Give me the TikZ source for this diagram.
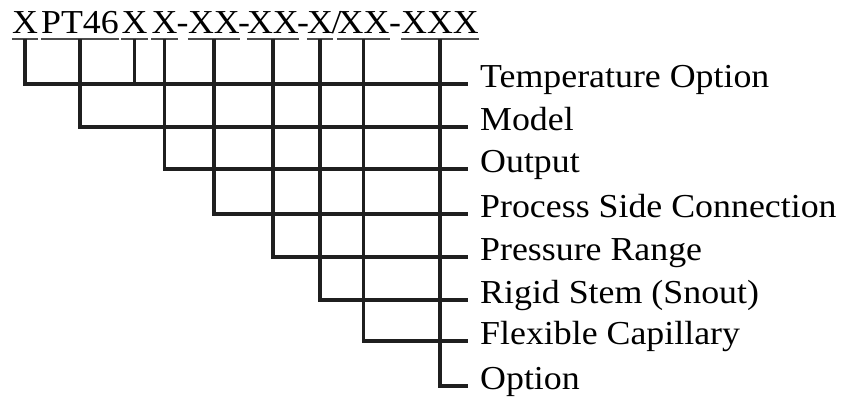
\documentclass[tikz,border=0pt]{standalone}
\usepackage{fontspec}
\setmainfont{Liberation Serif}[FakeStretch=1.07]
\usepackage{tikz}

\begin{document}
\begin{tikzpicture}[x=1pt,y=-1pt,
  seg/.style={inner sep=0pt,anchor=base,font=\fontsize{33.5}{40}\selectfont},
  lab/.style={anchor=west,inner xsep=12pt,inner ysep=0pt,text height=0.66em,text depth=0pt,font=\fontsize{33.5}{40}\selectfont},
  wire/.style={line width=3.2pt,black!88},
  uline/.style={line width=1.7pt,black!70}]
\useasboundingbox (0,0) rectangle (842,398);

% model code
\node[seg] (x1) at (25,34) {X};
\node[seg] (pt) at (80,34) {PT46};
\node[seg] (x2) at (134.5,34) {X};
\node[seg] (x3) at (164.5,34) {X};
\node[seg] (d1) at (182.5,34) {-};
\node[seg] (xx1) at (214,34) {XX};
\node[seg] (d2) at (244,34) {-};
\node[seg] (xx2) at (273,34) {XX};
\node[seg] (d3) at (303,34) {-};
\node[seg] (x4) at (320,34) {X};
\node[seg] (sl) at (336.5,34) {/};
\node[seg] (xx3) at (363.5,34) {XX};
\node[seg] (d4) at (395,34) {-};
\node[seg] (xxx) at (440,34) {XXX};

\draw[uline] ([yshift=-4.5pt]x1.south west) -- ([yshift=-4.5pt]x1.south east);
\draw[uline] ([yshift=-4.5pt]pt.south west) -- ([yshift=-4.5pt]pt.south east);
\draw[uline] ([yshift=-4.5pt]x2.south west) -- ([yshift=-4.5pt]x2.south east);
\draw[uline] ([yshift=-4.5pt]x3.south west) -- ([yshift=-4.5pt]x3.south east);
\draw[uline] ([yshift=-4.5pt]xx1.south west) -- ([yshift=-4.5pt]xx1.south east);
\draw[uline] ([yshift=-4.5pt]xx2.south west) -- ([yshift=-4.5pt]xx2.south east);
\draw[uline] ([yshift=-4.5pt]x4.south west) -- ([yshift=-4.5pt]x4.south east);
\draw[uline] ([yshift=-4.5pt]xx3.south west) -- ([yshift=-4.5pt]xx3.south east);
\draw[uline] ([yshift=-4.5pt]xxx.south west) -- ([yshift=-4.5pt]xxx.south east);

% fields
\node[lab] (temp) at (468,84) {Temperature Option};
\node[lab] (model) at (468,127) {Model};
\node[lab] (output) at (468,169) {Output};
\node[lab] (conn) at (468,214) {Process Side Connection};
\node[lab] (range) at (468,257) {Pressure Range};
\node[lab] (stem) at (468,300) {Rigid Stem (Snout)};
\node[lab] (capil) at (468,341) {Flexible Capillary};
\node[lab] (opt) at (468,386) {Option};

\draw[wire] ([yshift=-4.5pt]x1.south) |- (temp.west);
\draw[wire] ([yshift=-4.5pt]x2.south) -- (x2.south |- temp.west);
\draw[wire] ([yshift=-4.5pt]pt.south) |- (model.west);
\draw[wire] ([yshift=-4.5pt]x3.south) |- (output.west);
\draw[wire] ([yshift=-4.5pt]xx1.south) |- (conn.west);
\draw[wire] ([yshift=-4.5pt]xx2.south) |- (range.west);
\draw[wire] ([yshift=-4.5pt]x4.south) |- (stem.west);
\draw[wire] ([yshift=-4.5pt]xx3.south) |- (capil.west);
\draw[wire] ([yshift=-4.5pt]xxx.south) |- (opt.west);
\end{tikzpicture}
\end{document}
